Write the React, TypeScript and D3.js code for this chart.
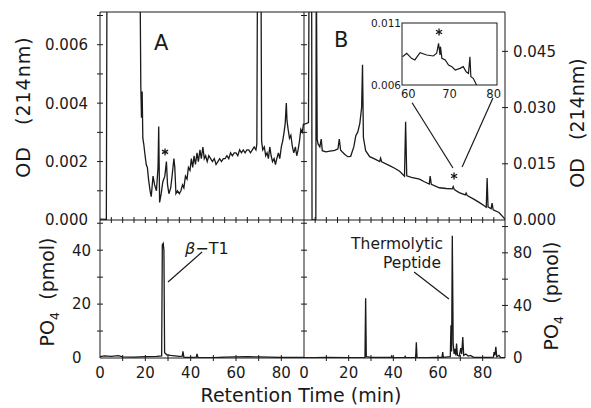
import React from 'react';
import * as d3 from 'd3';

// ---- Data (retention time in min, value) ----
const odA: [number, number][] = [
  [0, 0.00003], [2.8, 0.00002], [3.1, 0.009], [17.6, 0.009], [18.0, 0.0046], [18.3, 0.0035], [18.6, 0.0044],
  [18.9, 0.0028], [19.3, 0.0026], [19.9, 0.0022], [20.4, 0.0019], [20.9, 0.0018], [21.4, 0.0014], [22.1, 0.001],
  [22.6, 0.0008], [23.4, 0.0015], [24.1, 0.0012], [24.9, 0.001], [25.6, 0.0018], [25.9, 0.0032], [26.3, 0.0006],
  [27.0, 0.0009], [27.7, 0.0013], [28.6, 0.0015], [29.3, 0.002], [29.8, 0.0012], [30.4, 0.0009], [31.2, 0.0011],
  [31.8, 0.0015], [32.6, 0.0021], [33.0, 0.0018], [33.5, 0.0009], [34.2, 0.001], [35.0, 0.0009], [35.7, 0.001],
  [36.4, 0.0012], [37.0, 0.0011], [37.7, 0.0015], [38.4, 0.0014], [39.0, 0.0018], [39.7, 0.0017], [40.3, 0.0021],
  [40.9, 0.0018], [41.5, 0.0022], [42.1, 0.0019], [42.8, 0.0023], [43.4, 0.002], [44.1, 0.0024], [44.7, 0.0021],
  [45.4, 0.0025], [46.0, 0.0021], [46.6, 0.0022], [47.3, 0.002], [48.0, 0.0022], [48.8, 0.0021], [49.6, 0.002],
  [50.4, 0.0021], [51.2, 0.0019], [52.0, 0.002], [52.8, 0.0021], [53.6, 0.002], [54.4, 0.0021], [55.2, 0.0021],
  [56.0, 0.0022], [56.8, 0.0021], [57.6, 0.0023], [58.4, 0.0022], [59.2, 0.0023], [60.0, 0.0023], [60.8, 0.0022],
  [61.6, 0.0024], [62.4, 0.0023], [63.2, 0.0024], [64.0, 0.0023], [64.8, 0.0024], [65.6, 0.0024], [66.4, 0.0023],
  [67.2, 0.0024], [68.0, 0.0025], [68.8, 0.0024], [69.2, 0.0026], [69.5, 0.009], [71.0, 0.009], [71.3, 0.0027],
  [71.8, 0.0024], [72.5, 0.0025], [73.1, 0.0022], [73.7, 0.0023], [74.3, 0.0021], [74.9, 0.0025], [75.5, 0.0022],
  [76.1, 0.002], [76.8, 0.0021], [77.4, 0.0019], [78.0, 0.0021], [78.7, 0.0023], [79.3, 0.0021], [80.0, 0.0025],
  [80.6, 0.0027], [81.2, 0.003], [81.7, 0.0033], [82.2, 0.004], [82.5, 0.0034], [83.0, 0.0031], [83.6, 0.0028],
  [84.2, 0.0029], [84.9, 0.0025], [85.5, 0.0023], [86.2, 0.0025], [86.8, 0.0022], [87.4, 0.0024], [88.0, 0.0027],
  [88.6, 0.0031], [89.2, 0.003], [89.8, 0.0033],
];

const odB: [number, number][] = [
  [0, 0.0255], [2.0, 0.026], [2.3, 0.07], [3.4, 0.07], [3.6, 0], [5.3, 0], [5.5, 0.07], [5.9, 0.0215],
  [6.3, 0.0203], [7.1, 0.0195], [7.7, 0.0216], [8.2, 0.0185], [9.8, 0.0182], [11.6, 0.0184], [13.8, 0.0186],
  [15.2, 0.019], [15.8, 0.0216], [16.4, 0.0186], [18.3, 0.0175], [19.6, 0.0169], [20.9, 0.017], [22.3, 0.0195],
  [23.2, 0.0225], [24.1, 0.0235], [25.0, 0.0258], [25.8, 0.03], [26.2, 0.0414], [26.6, 0.022], [27.6, 0.0185],
  [29.4, 0.0169], [31.6, 0.0163], [33.9, 0.0156], [34.3, 0.0165], [34.8, 0.0155], [38.3, 0.0145], [40.6, 0.0138],
  [42.8, 0.013], [45.0, 0.0117], [45.5, 0.0262], [46.0, 0.0118], [48.1, 0.0114], [51.7, 0.0109], [53.9, 0.0102],
  [56.1, 0.0096], [56.5, 0.0117], [57.0, 0.0095], [60.6, 0.0086], [63.7, 0.0084], [66.4, 0.0083], [66.8, 0.0089],
  [67.3, 0.0081], [69.5, 0.0073], [72.2, 0.0067], [72.6, 0.0072], [73.1, 0.0065], [76.2, 0.0055], [78.4, 0.0047],
  [80.7, 0.0038], [81.6, 0.0034], [82.0, 0.0112], [82.4, 0.0035], [83.8, 0.003], [84.2, 0.0045], [84.7, 0.0027],
  [87.3, 0.002], [89.6, 0.0005], [90, 0.0002],
];

const insetB: [number, number][] = [
  [60.1, 0.00828], [61.0, 0.00856], [62.0, 0.00815], [62.7, 0.00802], [63.8, 0.0086], [65.2, 0.00842],
  [66.6, 0.00834], [67.3, 0.00856], [67.7, 0.00936], [68.0, 0.00842], [68.1, 0.00909], [68.4, 0.00815],
  [69.1, 0.00802], [69.8, 0.00761], [70.5, 0.00748], [71.2, 0.00721], [72.2, 0.00734], [72.9, 0.00748],
  [73.5, 0.00707], [74.0, 0.00694], [74.3, 0.00828], [74.5, 0.00667], [75.0, 0.00654], [75.7, 0.006],
];

const po4A: [number, number][] = [
  [0, 0.5], [2, 0.8], [5, 0.6], [8, 0.9], [10, 0.4], [15, 0.3], [20, 0.5], [25, 0.6], [27.2, 0.8], [27.5, 42],
  [27.9, 42.5], [28.2, 40], [28.5, 2], [29.5, 1.2], [31, 1], [33, 0.8], [35, 0.6], [36.3, 0.7], [36.6, 2.5],
  [37, 0.3], [38, 0.2], [40, 0.2], [42.5, 0.3], [42.8, 1.5], [43.2, 0.2], [50, 0.1], [55, 0.3], [60, 0.4],
  [65, 0.5], [70, 0.4], [75, 0.3], [80, 0.2], [85, 0.2], [90, 0.2],
];

const po4B: [number, number][] = [
  [0, 0.3], [5, 0.3], [10, 0.4], [20, 0.3], [27.3, 0.5], [27.6, 45.5], [27.9, 1], [30, 0.5], [35, 0.4], [39, 0.5],
  [39.3, 1.5], [39.6, 0.4], [45, 0.3], [45.3, 1.2], [45.6, 0.3], [50, 0.5], [50.3, 12], [50.6, 0.5], [55, 0.3],
  [60, 0.4], [61.8, 0.5], [62.1, 4.5], [62.4, 0.5], [65.5, 1], [65.8, 25], [66.1, 5], [66.4, 93], [66.8, 11],
  [67.2, 3], [67.6, 7], [68, 2], [68.3, 11], [68.7, 2], [69.5, 1.5], [70.2, 7.5], [70.6, 3], [71.1, 16],
  [71.5, 2], [72.5, 3], [73.5, 1.5], [74.5, 2], [76, 0.5], [80, 0.4], [84.8, 0.6], [85.1, 4.5], [85.5, 2],
  [85.9, 8.5], [86.3, 1], [87.3, 2], [88, 0.5], [90, 0.3],
];

const timeLabels = [0, 20, 40, 60, 80];
const odALabels = [0, 0.002, 0.004, 0.006];
const odBLabels = [0, 0.015, 0.03, 0.045];
const po4ALabels = [0, 20, 40];
const po4BLabels = [0, 40, 80];
const insetXLabels = [60, 70, 80];
const insetYLabels = [0.006, 0.011];

const FONT = 'DejaVu Sans';
const INK = '#1a1a1a';

export default function App() {
  const L = 100, M = 304, R = 505, T = 12, MID = 220, BOT = 358;
  const xA = d3.scaleLinear().domain([0, 90]).range([L, M]);
  const xB = d3.scaleLinear().domain([0, 90]).range([M, R]);
  const yOdA = d3.scaleLinear().domain([0, 0.00712]).range([MID, T]);
  const yOdB = d3.scaleLinear().domain([0, 0.0555]).range([MID, T]);
  const yPoA = d3.scaleLinear().domain([0, 51.2]).range([BOT, MID]);
  const yPoB = d3.scaleLinear().domain([0, 105]).range([BOT, MID]);
  const xIn = d3.scaleLinear().domain([60, 80]).range([402, 497]);
  const yIn = d3.scaleLinear().domain([0.006, 0.011]).range([85, 23]);

  const mk = (xs: any, ys: any) => d3.line<[number, number]>().x(d => xs(d[0])).y(d => ys(d[1]));
  const star = d3.symbol().type(d3.symbolAsterisk).size(34)() || '';

  const vt = (ys: any, vals: number[], x: number, key: string, len = 3) =>
    vals.map((v, i) => <line key={key + i} x1={x - len} x2={x + len} y1={ys(v)} y2={ys(v)} stroke={INK} strokeWidth={1} />);
  const ht = (xs: any, vals: number[], y: number, key: string, len = 3) =>
    vals.map((v, i) => <line key={key + i} x1={xs(v)} x2={xs(v)} y1={y - len} y2={y + len} stroke={INK} strokeWidth={1} />);

  const five = d3.range(5, 90, 5);
  const ten = d3.range(10, 90, 10);
  const inX = [401, xIn(70), 501];
  const inAnchor = ['start', 'middle', 'end'];

  return (
    <svg width={591} height={408} style={{ position: 'absolute', left: 0, top: 0, background: '#fff' }} fontFamily={FONT} fill={INK}>
      <defs>
        <clipPath id="cTA"><rect x={L} y={T} width={M - L} height={MID - T} /></clipPath>
        <clipPath id="cTB"><rect x={M} y={T} width={R - M} height={MID - T} /></clipPath>
        <clipPath id="cBA"><rect x={L} y={MID} width={M - L} height={BOT - MID} /></clipPath>
        <clipPath id="cBB"><rect x={M} y={MID} width={R - M} height={BOT - MID} /></clipPath>
        <clipPath id="cIn"><rect x={402} y={23} width={95} height={62} /></clipPath>
      </defs>
      <rect x={0} y={0} width={591} height={408} fill="#fff" />

      {/* traces */}
      <path d={mk(xA, yOdA)(odA) || ''} fill="none" stroke={INK} strokeWidth={1.3} clipPath="url(#cTA)" />
      <path d={mk(xB, yOdB)(odB) || ''} fill="none" stroke={INK} strokeWidth={1.3} clipPath="url(#cTB)" />
      <path d={mk(xA, yPoA)(po4A) || ''} fill="none" stroke={INK} strokeWidth={1.3} clipPath="url(#cBA)" />
      <path d={mk(xB, yPoB)(po4B) || ''} fill="none" stroke={INK} strokeWidth={1.3} clipPath="url(#cBB)" />

      {/* frame */}
      <g stroke={INK} strokeWidth={1} fill="none">
        <line x1={L} x2={R} y1={T} y2={T} />
        <line x1={L} x2={R} y1={MID} y2={MID} />
        <line x1={L} x2={R} y1={BOT} y2={BOT} />
        <line x1={L} x2={L} y1={T} y2={BOT} />
        <line x1={M} x2={M} y1={T} y2={BOT} />
        <line x1={R} x2={R} y1={T} y2={BOT} />
      </g>

      {/* ticks */}
      {vt(yOdA, d3.range(0.001, 0.0071, 0.001), L, 'la')}
      {vt(yOdA, d3.range(0.001, 0.0071, 0.001), M, 'ma')}
      {vt(yOdB, [0.015, 0.03, 0.045], R, 'rb')}
      {vt(yPoA, [10, 20, 30, 40, 50], L, 'lpa')}
      {vt(yPoA, [10, 20, 30, 40, 50], M, 'mpa')}
      {vt(yPoB, [20, 40, 60, 80, 100], R, 'rpb')}
      {ht(xA, five, MID, 'ta')}
      {ht(xB, five, MID, 'tb')}
      {ht(xA, ten, BOT, 'ba')}
      {ht(xB, ten, BOT, 'bb')}

      {/* tick labels */}
      <g fontSize={15}>
        {odALabels.map(v => <text key={'a' + v} x={88} y={yOdA(v)} dy="0.36em" textAnchor="end">{v.toFixed(3)}</text>)}
        {odBLabels.map(v => <text key={'b' + v} x={513} y={yOdB(v)} dy="0.36em">{v.toFixed(3)}</text>)}
        {po4ALabels.map(v => <text key={'c' + v} x={72} y={yPoA(v)} dy="0.36em">{v}</text>)}
        {po4BLabels.map(v => <text key={'d' + v} x={513} y={yPoB(v)} dy="0.36em">{v}</text>)}
        {timeLabels.map(v => <text key={'e' + v} x={xA(v)} y={378} textAnchor="middle">{v}</text>)}
        {timeLabels.map(v => <text key={'f' + v} x={xB(v)} y={378} textAnchor="middle">{v}</text>)}
      </g>

      {/* axis titles */}
      <text x={301} y={402} fontSize={19} textAnchor="middle">Retention Time (min)</text>
      <text transform="translate(30,107) rotate(-90)" fontSize={19} textAnchor="middle" letterSpacing={1} xmlSpace="preserve">{'OD   (214nm)'}</text>
      <text transform="translate(584,123) rotate(-90)" fontSize={19} textAnchor="middle" xmlSpace="preserve">{'OD   (214nm)'}</text>
      <text transform="translate(54,292) rotate(-90)" fontSize={19} textAnchor="middle" xmlSpace="preserve">
        <tspan>PO</tspan><tspan fontSize={13} dy={5}>4</tspan><tspan dy={-5}>{'  (pmol)'}</tspan>
      </text>
      <text transform="translate(558,296) rotate(-90)" fontSize={19} textAnchor="middle" xmlSpace="preserve">
        <tspan>PO</tspan><tspan fontSize={13} dy={5}>4</tspan><tspan dy={-5}>{'  (pmol)'}</tspan>
      </text>

      {/* panel letters */}
      <text x={154} y={50} fontSize={21}>A</text>
      <text x={334} y={47} fontSize={21}>B</text>

      {/* stars */}
      <path d={star} transform={`translate(${xA(28.7)},${yOdA(0.00233)})`} fill="none" stroke={INK} strokeWidth={1.3} />
      <path d={star} transform={`translate(${xB(67.2)},${yOdB(0.01174)})`} fill="none" stroke={INK} strokeWidth={1.3} />

      {/* inset */}
      <rect x={402} y={23} width={95} height={62} fill="#fff" stroke={INK} strokeWidth={1} />
      <path d={mk(xIn, yIn)(insetB) || ''} fill="none" stroke={INK} strokeWidth={1.2} clipPath="url(#cIn)" />
      <path d={star} transform={`translate(${xIn(67.8)},${yIn(0.01027)})`} fill="none" stroke={INK} strokeWidth={1.3} />
      <g fontSize={10.5}>
        {insetYLabels.map(v => <text key={'iy' + v} x={401} y={yIn(v)} dy="0.36em" textAnchor="end">{v.toFixed(3)}</text>)}
      </g>
      <g fontSize={11.5}>
        {insetXLabels.map((v, i) => <text key={'ix' + v} x={inX[i]} y={98} textAnchor={inAnchor[i]}>{v}</text>)}
      </g>
      <line x1={xB(48.4)} y1={yOdB(0.03129)} x2={xB(66.7)} y2={yOdB(0.01387)} stroke={INK} strokeWidth={1.2} />
      <line x1={xB(84.6)} y1={yOdB(0.03255)} x2={xB(70.8)} y2={yOdB(0.01414)} stroke={INK} strokeWidth={1.2} />

      {/* annotations */}
      <text x={xA(37.5)} y={yPoA(38.6)} fontSize={16}>
        <tspan fontStyle="italic">β</tspan><tspan>−T1</tspan>
      </text>
      <line x1={xA(45)} y1={yPoA(39.3)} x2={xA(30)} y2={yPoA(28.2)} stroke={INK} strokeWidth={1.2} />
      <text x={443} y={249} fontSize={15.5} textAnchor="end">Thermolytic</text>
      <text x={441} y={268} fontSize={15.5} textAnchor="end">Peptide</text>
      <line x1={xB(49.3)} y1={yPoB(65.4)} x2={xB(64.9)} y2={yPoB(44.9)} stroke={INK} strokeWidth={1.2} />
    </svg>
  );
}
